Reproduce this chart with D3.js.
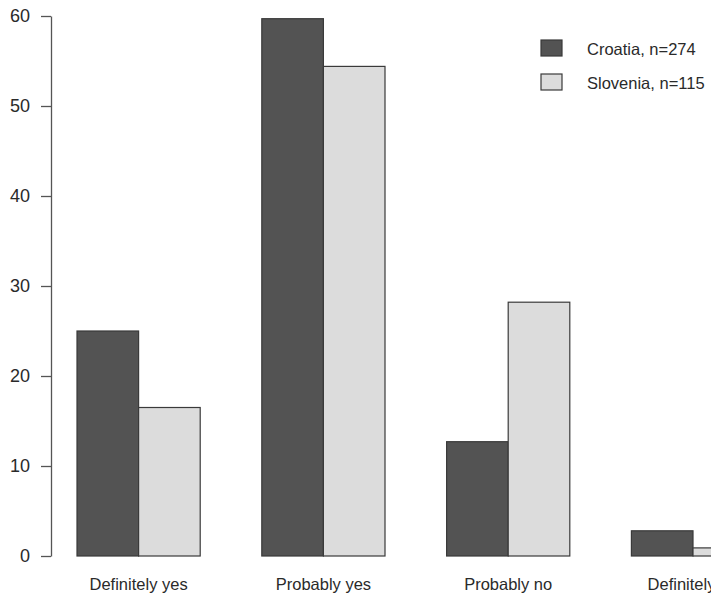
<!DOCTYPE html>
<html>
<head>
<meta charset="utf-8">
<script src="https://cdn.jsdelivr.net/npm/d3@7/dist/d3.min.js"></script>
<style>
  html, body { margin: 0; padding: 0; background: #fff; }
  svg { display: block; }
  text { font-family: "Liberation Sans", Arial, sans-serif; fill: #2a2a2a; }
</style>
</head>
<body>
<svg id="chart" width="711" height="597"></svg>
<script>
const categories = ["Definitely yes", "Probably yes", "Probably no", "Definitely no"];
const seriesNames = ["Croatia, n=274", "Slovenia, n=115"];
const croatia = [25.0, 59.7, 12.7, 2.8];
const slovenia = [16.5, 54.4, 28.2, 0.9];
const yTicks = [0, 10, 20, 30, 40, 50, 60];
const colors = ["#535353", "#dcdcdc"];

const svg = d3.select("#chart");
const values = [croatia, slovenia];

const y = d3.scaleLinear().domain([0, 60]).range([556, 16]);
const unit = 61.6;
const x0 = d3.scaleBand().domain(categories)
  .range([77, 77 + 11 * unit]).paddingInner(1 / 3).paddingOuter(0);
const x1 = d3.scaleBand().domain(seriesNames).range([0, x0.bandwidth()]);

// bars
const groups = svg.append("g").selectAll("g").data(categories).join("g")
  .attr("transform", d => `translate(${x0(d)},0)`);
groups.selectAll("rect")
  .data((c, i) => seriesNames.map((s, j) => ({ s, j, v: values[j][i] })))
  .join("rect")
  .attr("x", d => x1(d.s))
  .attr("y", d => y(d.v))
  .attr("width", x1.bandwidth())
  .attr("height", d => y(0) - y(d.v))
  .attr("fill", d => colors[d.j])
  .attr("stroke", "#3a3a3a")
  .attr("stroke-width", 1.2);

// category labels
svg.append("g").selectAll("text").data(categories).join("text")
  .attr("x", d => x0(d) + x0.bandwidth() / 2)
  .attr("y", 590)
  .attr("text-anchor", "middle")
  .attr("font-size", 16.5)
  .text(d => d);

// y axis
const yAxis = d3.axisLeft(y).tickValues(yTicks).tickSize(10).tickSizeOuter(0).tickPadding(11);
const ga = svg.append("g").attr("transform", "translate(51,0)").call(yAxis);
ga.select(".domain").attr("stroke", "#555").attr("stroke-width", 1.3);
ga.selectAll(".tick line").attr("stroke", "#555").attr("stroke-width", 1.3);
ga.selectAll(".tick text")
  .attr("font-size", 18)
  .attr("fill", "#2a2a2a")
  .style("font-family", "Liberation Sans, Arial, sans-serif");

// legend
const legend = svg.append("g").selectAll("g").data(seriesNames).join("g")
  .attr("transform", (d, i) => `translate(541,${40 + i * 34})`);
legend.append("rect")
  .attr("width", 21).attr("height", 16)
  .attr("fill", (d, i) => colors[i])
  .attr("stroke", "#3a3a3a").attr("stroke-width", 1.2);
legend.append("text")
  .attr("x", 46).attr("y", 15)
  .attr("font-size", 16.5)
  .text(d => d);
</script>
</body>
</html>
